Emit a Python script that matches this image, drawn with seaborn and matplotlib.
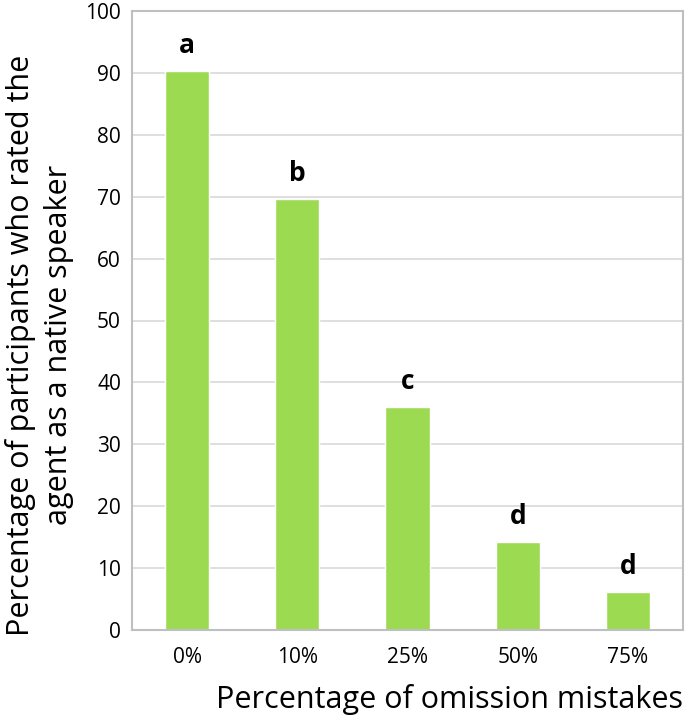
import pandas as pd
import seaborn as sns
import matplotlib.pyplot as plt

# values
mistakes = ["0%", "10%", "25%", "50%", "75%"]
rated_native = [90.3, 69.6, 36.0, 14.2, 6.1]
letters = ["a", "b", "c", "d", "d"]

df = pd.DataFrame({"mistakes": mistakes, "native": rated_native})

sns.set_style("white")
plt.rcParams["font.family"] = ["Open Sans", "DejaVu Sans"]
plt.rcParams["text.color"] = "black"
plt.rcParams["axes.labelcolor"] = "black"
plt.rcParams["xtick.color"] = "black"
plt.rcParams["ytick.color"] = "black"

fig = plt.figure(figsize=(6.85, 7.15), dpi=100)
ax = fig.add_axes([132 / 685, 1 - 630 / 715, 551 / 685, 619 / 715])

sns.barplot(data=df, x="mistakes", y="native", color="#9cdb51",
            saturation=1, width=0.4, ax=ax)

#letters above bars
for i, (v, s) in enumerate(zip(rated_native, letters)):
    ax.text(i, v + 2.9, s, ha="center", va="baseline", fontsize=19,
            fontweight="bold", color="black")

ax.set_ylim(0, 100)
ax.set_xlim(-0.5, 4.5)
ax.set_yticks(range(0, 101, 10))
ax.yaxis.grid(True, color="#d9d9d9", linewidth=1.2)
ax.set_axisbelow(True)
for sp in ax.spines.values():
    sp.set_color("#bfbfbf")
    sp.set_linewidth(1.5)
ax.tick_params(axis="x", length=0, labelsize=15, pad=12)
ax.tick_params(axis="y", length=0, labelsize=15, pad=8)

ax.set_xlabel("Percentage of omission mistakes", fontsize=22, labelpad=12,
              loc="right")
ax.set_ylabel("Percentage of participants who rated the\nagent as a native speaker",
              fontsize=22, linespacing=1.35)
ax.yaxis.set_label_coords(-0.105, 0.46)

plt.savefig("out.png", dpi=100)
